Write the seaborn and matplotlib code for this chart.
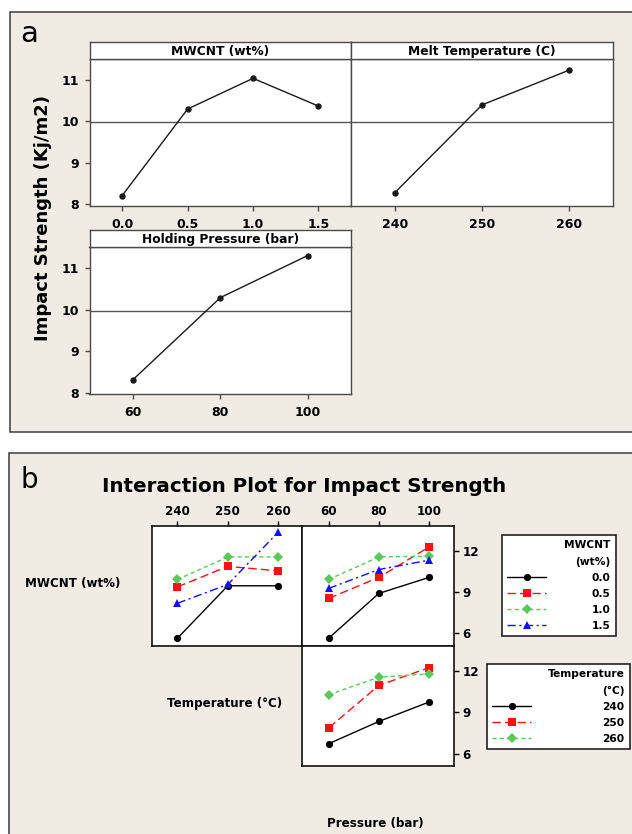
import numpy as np
import pandas as pd
import matplotlib
matplotlib.use("Agg")
import matplotlib.pyplot as plt
from matplotlib.patches import Rectangle
import seaborn as sns

# ---------------- data ----------------
# Panel a : main effects
mwcnt_levels = [0.0, 0.5, 1.0, 1.5]
mwcnt_means = [8.21, 10.30, 11.04, 10.37]
temp_levels = [240, 250, 260]
temp_means = [8.28, 10.40, 11.24]
press_levels = [60, 80, 100]
press_means = [8.32, 10.29, 11.30]

# Panel b : interactions
mwcnt_labels = ["0.0", "0.5", "1.0", "1.5"]
temp_labels = ["240", "250", "260"]
# Temperature x MWCNT (rows: MWCNT, cols: temperature)
tm_vals = [[5.65, 9.48, 9.48],
           [9.40, 10.90, 10.57],
           [9.94, 11.59, 11.59],
           [8.20, 9.58, 13.40]]
# Pressure x MWCNT
pm_vals = [[5.65, 8.92, 10.09],
           [8.56, 10.09, 12.31],
           [9.94, 11.59, 11.64],
           [9.29, 10.67, 11.35]]
# Pressure x Temperature (rows: temperature)
pt_vals = [[6.72, 8.34, 9.75],
           [7.88, 10.96, 12.25],
           [10.28, 11.56, 11.80]]

# ---------------- styling ----------------
sns.set_style("white")
plt.rcParams["font.family"] = ["DejaVu Sans"]
plt.rcParams["axes.linewidth"] = 1.0
plt.rcParams["text.color"] = "black"
plt.rcParams["xtick.color"] = "black"
plt.rcParams["ytick.color"] = "black"
plt.rcParams["axes.labelcolor"] = "black"

W, H = 632, 834
BEIGE = "#f0ece4"
fig = plt.figure(figsize=(W / 100, H / 100), dpi=100)
fig.patch.set_facecolor("white")


def rect(x0, y0, x1, y1):
    return [x0 / W, 1 - y1 / H, (x1 - x0) / W, (y1 - y0) / H]


def fx(x):
    return x / W


def fy(y):
    return 1 - y / H


# panel backgrounds
fig.patches.append(Rectangle((fx(10), fy(432)), (660 - 10) / W, (432 - 12.3) / H,
                             transform=fig.transFigure, facecolor=BEIGE,
                             edgecolor="#3c3c3c", lw=1.1, zorder=-5))
fig.patches.append(Rectangle((fx(9), fy(860)), (660 - 9) / W, (860 - 453) / H,
                             transform=fig.transFigure, facecolor=BEIGE,
                             edgecolor="#3c3c3c", lw=1.1, zorder=-5))

# ---------------- panel a ----------------
SP = "#4a4a4a"
grand_mean = float(np.mean(mwcnt_means))


def main_effect(area, strip, x, y, xlim, xticks, xticklabels, title, show_y):
    ax = fig.add_axes(rect(*area))
    ax.set_facecolor("white")
    sns.lineplot(x=x, y=y, ax=ax, color="#1a1a1a", marker="o", markersize=4.6,
                 lw=1.0, markeredgewidth=0)
    ax.axhline(grand_mean, color="#555555", lw=1.0, zorder=1)
    ax.set_xlim(*xlim)
    ax.set_ylim(7.965, 11.5)
    ax.set_xticks(xticks)
    ax.set_xticklabels(xticklabels, fontweight="bold", fontsize=9)
    if show_y:
        ax.set_yticks([8, 9, 10, 11])
        ax.set_yticklabels(["8", "9", "10", "11"], fontweight="bold", fontsize=9)
        ax.tick_params(axis="y", left=True, direction="out", length=3.5,
                       width=1, color=SP, pad=4)
    else:
        ax.set_yticks([])
    ax.tick_params(axis="x", bottom=True, direction="out", length=3.5,
                   width=1, color=SP, pad=5)
    ax.set_xlabel("")
    ax.set_ylabel("")
    for s in ax.spines.values():
        s.set_color(SP)
        s.set_linewidth(1.0)
    sax = fig.add_axes(rect(*strip))
    sax.set_facecolor("white")
    sax.set_xticks([])
    sax.set_yticks([])
    for s in sax.spines.values():
        s.set_color(SP)
        s.set_linewidth(1.0)
    sax.text(0.5, 0.45, title, ha="center", va="center", fontsize=8.8,
             fontweight="bold", transform=sax.transAxes)
    return ax


main_effect((89.5, 59.3, 351.2, 205.7), (89.5, 42.3, 351.2, 59.3),
            mwcnt_levels, mwcnt_means, (-0.25, 1.75), mwcnt_levels,
            ["0.0", "0.5", "1.0", "1.5"], "MWCNT (wt%)", True)
main_effect((351.2, 59.3, 613, 205.7), (351.2, 42.3, 613, 59.3),
            temp_levels, temp_means, (235, 265), temp_levels,
            ["240", "250", "260"], "Melt Temperature (C)", False)
main_effect((89.5, 247.3, 351.2, 394.3), (89.5, 230.3, 351.2, 247.3),
            press_levels, press_means, (50, 110), press_levels,
            ["60", "80", "100"], "Holding Pressure (bar)", True)

fig.text(fx(43.5), fy(218), "Impact Strength (Kj/m2)", rotation=90,
         ha="center", va="center", fontsize=13, fontweight="bold")
fig.text(fx(20), fy(41.7), "a", ha="left", va="baseline", fontsize=21)

# ---------------- panel b ----------------
fig.text(fx(20.5), fy(488), "b", ha="left", va="baseline", fontsize=20)
fig.text(fx(304.5), fy(486), "Interaction Plot for Impact Strength",
         ha="center", va="center", fontsize=14.3, fontweight="bold")

colors4 = {"0.0": "black", "0.5": "#ff1010", "1.0": "#5cc85c", "1.5": "#1010ff"}
markers4 = {"0.0": "o", "0.5": "s", "1.0": "D", "1.5": "^"}
dashes4 = {"0.0": "", "0.5": (6, 3), "1.0": (3, 2.2), "1.5": (6, 2.5, 1.5, 2.5)}
colors3 = {"240": "black", "250": "#ff1010", "260": "#5cc85c"}
markers3 = {"240": "o", "250": "s", "260": "D"}
dashes3 = {"240": "", "250": (6, 3), "260": (3, 2.2)}

df_tm = pd.DataFrame({"x": np.tile(temp_levels, 4),
                      "grp": np.repeat(mwcnt_labels, 3),
                      "y": np.concatenate(tm_vals)})
df_pm = pd.DataFrame({"x": np.tile(press_levels, 4),
                      "grp": np.repeat(mwcnt_labels, 3),
                      "y": np.concatenate(pm_vals)})
df_pt = pd.DataFrame({"x": np.tile(press_levels, 3),
                      "grp": np.repeat(temp_labels, 3),
                      "y": np.concatenate(pt_vals)})

YL = (5.1, 13.85)


def inter(area, df, order, pal, mk, ds, xlim):
    ax = fig.add_axes(rect(*area))
    ax.set_facecolor("white")
    sns.lineplot(data=df, x="x", y="y", hue="grp", style="grp",
                 hue_order=order, style_order=order, palette=pal,
                 markers=mk, dashes=ds, markersize=5.2, lw=1.0,
                 markeredgewidth=0, legend=False, ax=ax, errorbar=None)
    ax.set_xlim(*xlim)
    ax.set_ylim(*YL)
    ax.set_xlabel("")
    ax.set_ylabel("")
    for s in ax.spines.values():
        s.set_color("#111111")
        s.set_linewidth(1.2)
    return ax


ax_tl = inter((152.3, 526, 302.4, 645.7), df_tm, mwcnt_labels, colors4,
              markers4, dashes4, (235, 264.8))
ax_tr = inter((302.4, 526, 454, 645.7), df_pm, mwcnt_labels, colors4,
              markers4, dashes4, (49.5, 110))
ax_br = inter((302.4, 645.7, 454, 766), df_pt, temp_labels, colors3,
              markers3, dashes3, (49.5, 110))

for ax, ticks in ((ax_tl, temp_levels), (ax_tr, press_levels)):
    ax.set_xticks(ticks)
    ax.set_xticklabels([str(t) for t in ticks], fontweight="bold", fontsize=8.6)
    ax.tick_params(axis="x", top=True, bottom=False, labeltop=True,
                   labelbottom=False, direction="out", length=3.5, width=1,
                   pad=2.5)
ax_tl.set_yticks([])
ax_br.set_xticks([])
for ax in (ax_tr, ax_br):
    ax.set_yticks([6, 9, 12])
    ax.set_yticklabels(["6", "9", "12"], fontweight="bold", fontsize=8.6)
    ax.tick_params(axis="y", left=False, right=True, labelleft=False,
                   labelright=True, direction="out", length=3.6, width=1,
                   pad=2.5)

fig.text(fx(72.6), fy(583), "MWCNT (wt%)", ha="center", va="center",
         fontsize=8.6, fontweight="bold")
fig.text(fx(225), fy(703), "Temperature (°C)", ha="center", va="center",
         fontsize=8.6, fontweight="bold")
fig.text(fx(375), fy(823), "Pressure (bar)", ha="center", va="center",
         fontsize=8.6, fontweight="bold")


def make_legend(ax, labels, title, anchor, textpad):
    handles = ax.get_lines()[:len(labels)]
    leg = fig.legend(handles, labels, title=title, loc="upper left",
                     bbox_to_anchor=anchor, frameon=True, fancybox=False,
                     edgecolor="#222222", framealpha=1, facecolor="white",
                     borderaxespad=0, alignment="right", handlelength=3.6,
                     handletextpad=textpad, labelspacing=0.55, borderpad=0.5,
                     prop={"weight": "bold", "size": 7.7},
                     title_fontproperties={"weight": "bold", "size": 7.7})
    leg.get_title().set_multialignment("right")
    leg.get_title().set_linespacing(1.85)
    leg.get_frame().set_linewidth(1.2)
    return leg


make_legend(ax_tl, mwcnt_labels, "MWCNT\n(wt%)", (fx(502), fy(535)), 4.3)
make_legend(ax_br, temp_labels, "Temperature\n(°C)", (fx(487), fy(664)), 6.7)

fig.savefig("out.png", dpi=100)
